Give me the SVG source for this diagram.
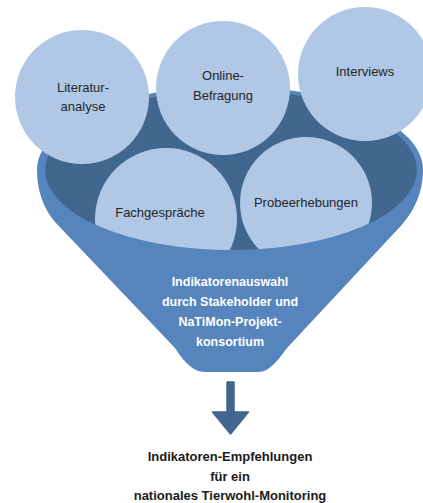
<svg xmlns="http://www.w3.org/2000/svg" width="423" height="503" viewBox="0 0 423 503">
  <style>
    .circle { fill: #b0c8e6; }
    .lbl { font-family: "Liberation Sans", Arial, sans-serif; font-size: 13px; fill: #262626; text-anchor: middle; }
    .wlbl { font-family: "Liberation Sans", Arial, sans-serif; font-size: 12.5px; font-weight: bold; fill: #ffffff; text-anchor: middle; }
    .blbl { font-family: "Liberation Sans", Arial, sans-serif; font-size: 13px; font-weight: bold; fill: #1a1a1a; text-anchor: middle; }
  </style>
  <defs>
    <clipPath id="innerClip">
      <ellipse cx="231" cy="170" rx="186" ry="80"/>
    </clipPath>
  </defs>
  <rect width="423" height="503" fill="#ffffff"/>

  <g id="funnel">
    <path d="M 37,170 A 193 84 0 0 1 423,170 C 423,195 412,215 397,230 L 287,348 C 278,360 270,372 258,372 L 205,372 C 192,372 183,360 175,348 L 55,222 C 43,208 37,190 37,170 Z" fill="#5585bc"/>
    <ellipse cx="231" cy="170" rx="186" ry="80" fill="#42678f"/>
    <text class="wlbl" x="230" y="286">Indikatorenauswahl</text>
    <text class="wlbl" x="230" y="306">durch Stakeholder und</text>
    <text class="wlbl" x="230" y="326">NaTiMon-Projekt-</text>
    <text class="wlbl" x="230" y="346">konsortium</text>
  </g>

  <g id="fachgespraeche" clip-path="url(#innerClip)">
    <circle class="circle" cx="166" cy="219" r="71"/>
    <text class="lbl" x="160" y="217">Fachgespräche</text>
  </g>

  <g id="probeerhebungen" clip-path="url(#innerClip)">
    <circle class="circle" cx="306" cy="203" r="66"/>
    <text class="lbl" x="306" y="207">Probeerhebungen</text>
  </g>

  <g id="literaturanalyse">
    <circle class="circle" cx="82" cy="97" r="67"/>
    <text class="lbl" x="83" y="92">Literatur-</text>
    <text class="lbl" x="83" y="111">analyse</text>
  </g>

  <g id="onlinebefragung">
    <circle class="circle" cx="223" cy="88" r="67"/>
    <text class="lbl" x="223" y="80">Online-</text>
    <text class="lbl" x="223" y="100">Befragung</text>
  </g>

  <g id="interviews">
    <circle class="circle" cx="365" cy="74" r="67"/>
    <text class="lbl" x="365" y="76">Interviews</text>
  </g>

  <g id="connectors">
    <path d="M 227,382 L 234,382 L 234,412 L 248.5,412 L 230.5,434 L 212.5,412 L 227,412 Z" fill="#42668f" stroke="#42668f" stroke-width="1.5" stroke-linejoin="round"/>
  </g>

  <g id="empfehlungen">
    <text class="blbl" x="230" y="461">Indikatoren-Empfehlungen</text>
    <text class="blbl" x="230" y="480.5">für ein</text>
    <text class="blbl" x="230" y="499.5">nationales Tierwohl-Monitoring</text>
  </g>
</svg>
